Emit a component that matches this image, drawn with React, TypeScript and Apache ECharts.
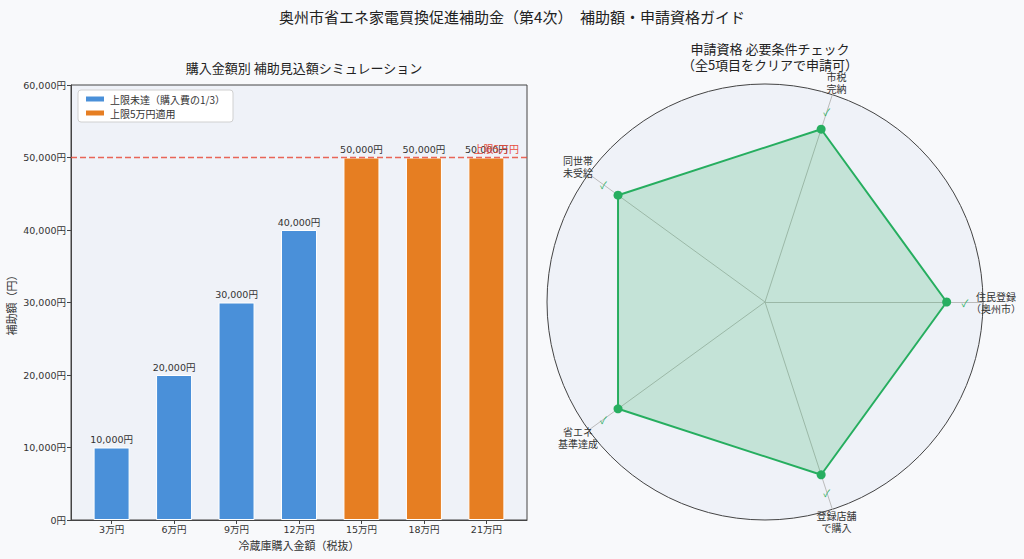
import React, { useEffect, useRef } from "react";
import * as echarts from "echarts";

const categories = ["3万円", "6万円", "9万円", "12万円", "15万円", "18万円", "21万円"];
const belowCapValues = [10000, 20000, 30000, 40000];
const cappedValues = [50000, 50000, 50000];
const capValue = 50000;
const yTicks = [0, 10000, 20000, 30000, 40000, 50000, 60000];
const radarNames = ["住民登録\n（奥州市）", "市税\n完納", "同世帯\n未受給", "省エネ\n基準達成", "登録店舗\nで購入"];
const radarValues = [1, 1, 1, 1, 1];
const checkValues = [1.1, 1.1, 1.1, 1.1, 1.1];

const FONT = '"Noto Sans CJK JP", "Noto Sans", sans-serif';
const NUMFONT = '"DejaVu Sans", "Noto Sans CJK JP", sans-serif';
const fmtYen = (v: number) => v.toLocaleString("en-US") + "円";
const X_MIN = -0.65;
const X_MAX = 6.65;
const RED = "rgb(231,76,60)";

export default function App() {
  const ref = useRef<HTMLDivElement>(null);
  useEffect(() => {
    if (!ref.current) return;
    const chart = echarts.init(ref.current, undefined, { renderer: "svg" });
    const blueData = belowCapValues.map((v, i) => [i, v]);
    const orangeData = cappedValues.map((v, i) => [i + belowCapValues.length, v]);
    const barLabel = {
      show: true,
      position: "top",
      distance: 3,
      fontSize: 9.5,
      color: "#333",
      fontFamily: NUMFONT,
      formatter: (p: any) => fmtYen(p.value[1]),
    };
    chart.setOption({
      animation: false,
      backgroundColor: "#f8f9fb",
      textStyle: { fontFamily: FONT },
      title: [
        {
          text: "奥州市省エネ家電買換促進補助金（第4次）　補助額・申請資格ガイド",
          left: "center",
          top: 4,
          textStyle: { fontSize: 15, fontWeight: "normal", color: "#222", fontFamily: FONT },
        },
        {
          text: "購入金額別 補助見込額シミュレーション",
          left: 299,
          textAlign: "center",
          top: 56,
          textStyle: { fontSize: 13, fontWeight: "normal", color: "#222", fontFamily: FONT },
        },
        {
          text: "申請資格 必要条件チェック\n（全5項目をクリアで申請可）",
          left: 765,
          textAlign: "center",
          top: 35,
          textStyle: { fontSize: 13, fontWeight: "normal", color: "#222", lineHeight: 16, fontFamily: FONT },
        },
      ],
      legend: {
        data: ["上限未達（購入費の1/3）", "上限5万円適用"],
        orient: "vertical",
        left: 78,
        top: 90,
        itemWidth: 20,
        itemHeight: 7,
        itemGap: 4,
        icon: "rect",
        backgroundColor: "#ffffff",
        borderColor: "#d0d0d0",
        borderWidth: 1,
        borderRadius: 3,
        padding: [4, 8, 4, 6],
        textStyle: { fontSize: 10, color: "#333", fontFamily: FONT },
      },
      grid: {
        left: 71,
        top: 85,
        width: 456,
        height: 435,
        show: true,
        backgroundColor: "#eff2f8",
        borderColor: "#444",
        borderWidth: 1,
      },
      xAxis: {
        type: "value",
        min: X_MIN,
        max: X_MAX,
        name: "冷蔵庫購入金額（税抜）",
        nameLocation: "middle",
        nameGap: 19,
        nameTextStyle: { fontSize: 11, color: "#333", fontFamily: FONT },
        splitLine: { show: false },
        axisLine: { show: true, onZero: false, lineStyle: { color: "#444" } },
        axisTick: { show: true, length: 4, customValues: categories.map((_, i) => i), lineStyle: { color: "#444" } },
        axisLabel: {
          customValues: categories.map((_, i) => i),
          formatter: (v: number) => categories[Math.round(v)] ?? "",
          fontSize: 9.5,
          fontFamily: NUMFONT,
          color: "#333",
          margin: 5,
        },
      },
      yAxis: {
        type: "value",
        min: 0,
        max: 60000,
        interval: 10000,
        name: "補助額（円）",
        nameLocation: "middle",
        nameGap: 55,
        nameTextStyle: { fontSize: 11, color: "#333", fontFamily: FONT },
        splitLine: { show: false },
        axisLine: { show: true, onZero: false, lineStyle: { color: "#444" } },
        axisTick: { show: true, length: 4, lineStyle: { color: "#444" } },
        axisLabel: {
          customValues: yTicks,
          formatter: (v: number) => fmtYen(v),
          fontSize: 9.5,
          fontFamily: NUMFONT,
          color: "#333",
          margin: 5,
        },
      },
      radar: {
        center: [765, 302],
        radius: 218,
        startAngle: 0,
        shape: "circle",
        splitNumber: 1,
        indicator: radarNames.map((n) => ({ name: n, min: 0, max: 1.2 })),
        nameGap: 13,
        axisName: { color: "#333", fontSize: 10, lineHeight: 12, fontFamily: FONT, align: "center" },
        splitLine: { lineStyle: { color: "#444", width: 1 } },
        splitArea: { show: true, areaStyle: { color: ["#eff2f8"] } },
        axisLine: { lineStyle: { color: "#bbbbbb", width: 1 } },
        axisTick: { show: false },
        axisLabel: { show: false },
      },
      series: [
        {
          name: "上限未達（購入費の1/3）",
          type: "bar",
          data: blueData,
          barWidth: 36,
          barGap: "-100%",
          itemStyle: { color: "#4a90d9", borderColor: "#ffffff", borderWidth: 1 },
          label: barLabel,
        },
        {
          name: "上限5万円適用",
          type: "bar",
          data: orangeData,
          barWidth: 36,
          barGap: "-100%",
          itemStyle: { color: "#e67e22", borderColor: "#ffffff", borderWidth: 1 },
          label: barLabel,
        },
        {
          name: "cap",
          type: "line",
          color: RED,
          data: [
            [X_MIN, capValue],
            [X_MAX, capValue],
          ],
          symbol: "none",
          silent: true,
          z: 5,
          itemStyle: { color: RED },
          lineStyle: { color: RED, type: [6, 3], width: 1.5, opacity: 0.85 },
          markLine: {
            symbol: "none",
            silent: true,
            lineStyle: { color: "transparent", width: 0 },
            label: {
              show: true,
              position: "insideEndTop",
              formatter: "上限5万円",
              color: RED,
              fontSize: 10,
              distance: [8, 4],
            },
            data: [{ yAxis: capValue }],
          },
        },
        {
          type: "radar",
          data: [{ value: radarValues, name: "要件" }],
          symbol: "circle",
          symbolSize: 9,
          itemStyle: { color: "#27ae60" },
          lineStyle: { color: "#27ae60", width: 2 },
          areaStyle: { color: "rgba(39,174,96,0.3)" },
        },
        {
          type: "radar",
          data: [{ value: checkValues, name: "チェック" }],
          symbol: "circle",
          symbolSize: 1,
          itemStyle: { color: "transparent" },
          lineStyle: { width: 0, color: "transparent" },
          label: {
            show: true,
            position: "inside",
            formatter: "✓",
            color: "#27ae60",
            fontSize: 10,
          },
        },
      ],
    });
    return () => chart.dispose();
  }, []);
  return <div ref={ref} style={{ position: "fixed", left: 0, top: 0, width: 1024, height: 559 }} />;
}
